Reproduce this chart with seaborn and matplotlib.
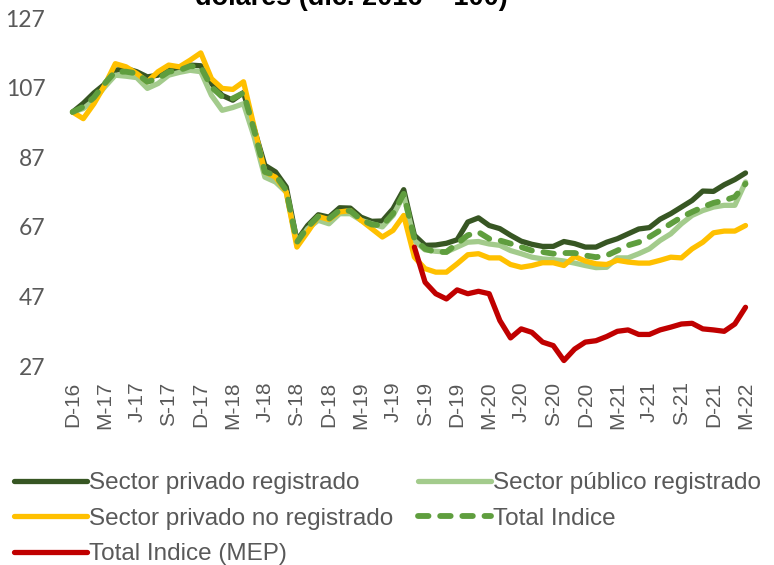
import numpy as np
import pandas as pd
import matplotlib
matplotlib.use("Agg")
import matplotlib.pyplot as plt
import seaborn as sns

# Salario real en dolares, base dic. 2016 = 100 (mensual, dic-16 a mar-22)
tick_labels = ["D-16", "M-17", "J-17", "S-17", "D-17", "M-18", "J-18", "S-18",
               "D-18", "M-19", "J-19", "S-19", "D-19", "M-20", "J-20", "S-20",
               "D-20", "M-21", "J-21", "S-21", "D-21", "M-22"]

privado_registrado = [
    100, 102.5, 105.5, 108, 112, 112.5, 111.6, 110.1, 110.6, 112.2, 112.2, 113.5,
    113.3, 108.2, 104.8, 103.4, 105.6, 95.2, 84.7, 82.8, 78.5, 63.1, 67.4, 70.5,
    69.8, 72.5, 72.4, 69.8, 68.6, 68.7, 72.2, 77.7, 64.6, 61.7, 61.8, 62.3,
    63.3, 68.4, 69.6, 67.4, 66.5, 64.6, 62.9, 62.0, 61.4, 61.4, 62.8, 62.2,
    61.2, 61.2, 62.6, 63.6, 65.0, 66.4, 66.8, 69.2, 70.8, 72.7, 74.6, 77.3,
    77.2, 79.1, 80.6, 82.5]

publico_registrado = [
    100, 101, 103.4, 107.2, 110.6, 110.3, 109.9, 106.8, 108.2, 110.6, 111.4, 112,
    111.6, 104.8, 100.5, 101.3, 102.4, 92.8, 81.3, 79.9, 77, 62.2, 66.5, 68.9,
    67.9, 70.8, 70.8, 68.9, 67.9, 67, 70.3, 76.1, 63.1, 60.4, 60, 59.8,
    61.2, 62.6, 62.8, 62.1, 61.7, 60.2, 59.3, 58.3, 57.8, 57.6, 57.2, 56.6,
    55.9, 55.3, 55.4, 58.1, 58.1, 59.3, 60.7, 63.1, 65, 67.9, 70.3, 71.7,
    72.7, 73.2, 73.2, 79.9]

privado_no_registrado = [
    100, 98.1, 102.4, 107.7, 113.9, 113, 111.1, 108.7, 111.6, 113.5, 113, 114.9,
    117, 109.6, 106.8, 106.5, 108.7, 95.7, 82.8, 81.3, 77, 61.2, 65.5, 70,
    69.1, 71.3, 71.7, 68.9, 66.5, 64.1, 66, 70.3, 58.3, 55, 54, 54,
    56.4, 59, 59.3, 58.1, 58.1, 56.2, 55.4, 55.9, 56.7, 56.7, 55.9, 58.5,
    57.2, 56.4, 56.2, 57.4, 56.9, 56.6, 56.6, 57.4, 58.3, 58.1, 60.7, 62.6,
    65.3, 65.8, 65.8, 67.4]

total_indice = [
    100, 101.5, 104.2, 108.2, 111.6, 111.6, 111.1, 108.7, 109.6, 111.6, 112, 113.2,
    113, 107.2, 104.4, 103.9, 105.5, 94.8, 82.8, 81.8, 77.5, 62.6, 66.9, 70,
    69.3, 71.8, 71.6, 69.1, 67.7, 67.4, 70.8, 76.5, 63.6, 60.7, 59.8, 59.8,
    62.2, 64.6, 65.5, 63.6, 63.1, 62.2, 61.2, 60.2, 59.8, 59.3, 59.5, 59.5,
    58.8, 58.3, 58.8, 60.2, 61.7, 62.6, 64.1, 66, 67.9, 69.8, 71.3, 72.7,
    73.9, 74.6, 75.6, 79.4]

total_mep = [None] * 32 + [
    61.2, 51.1, 47.8, 46.3, 48.9, 47.8, 48.5, 47.8, 40.1, 35.1, 37.7, 36.7,
    33.9, 32.9, 28.6, 31.9, 33.9, 34.3, 35.5, 37.0, 37.4, 36.1, 36.1, 37.4,
    38.2, 39.1, 39.3, 37.7, 37.4, 37.0, 39.1, 43.9]

df = pd.DataFrame({
    "mes": np.arange(len(privado_registrado)),
    "Sector privado registrado": privado_registrado,
    "Sector público registrado": publico_registrado,
    "Sector privado no registrado": privado_no_registrado,
    "Total Indice": total_indice,
    "Total Indice (MEP)": pd.array(total_mep, dtype="Float64").astype(float),
})

sns.set_style("white")
plt.rcParams["font.family"] = ["Liberation Sans", "DejaVu Sans"]

fig = plt.figure(figsize=(7.74, 5.65), dpi=100)
ax = fig.add_axes([0.080, 0.352, 0.897, 0.616])

gray = "#595959"
styles = [
    ("Sector privado registrado", "#375623", "-", 3.8),
    ("Sector público registrado", "#a3cb8c", "-", 3.8),
    ("Sector privado no registrado", "#ffc000", "-", 3.8),
    ("Total Indice", "#5f9e3e", (0, (1.8, 2.0)), 4.2),
    ("Total Indice (MEP)", "#c00000", "-", 3.8),
]
handles = {}
for name, color, ls, lw in styles:
    sns.lineplot(data=df, x="mes", y=name, ax=ax, color=color, linestyle=ls,
                 linewidth=lw, solid_capstyle="round", dash_capstyle="round",
                 label=name)
    handles[name] = ax.get_lines()[-1]

ax.set_xlim(-1, 64)
ax.set_ylim(27, 127)
ax.set_yticks(np.arange(27, 128, 20))
ax.set_xticks(np.arange(0, 64, 3))
ax.set_xticklabels(tick_labels, rotation=90, fontsize=15, color=gray)
ax.tick_params(axis="y", labelsize=16.5, labelcolor=gray, length=0, pad=12)
ax.tick_params(axis="x", length=0, pad=11)
for lab in ax.get_yticklabels():
    lab.set_family(["Lato", "DejaVu Sans"])
ax.set_xlabel("")
ax.set_ylabel("")
sns.despine(ax=ax, left=True, bottom=True)
ax.get_legend().remove()

order = ["Sector privado registrado", "Sector privado no registrado",
         "Total Indice (MEP)", "Sector público registrado", "Total Indice"]
fig.legend([handles[n] for n in order], order, loc="upper left",
           bbox_to_anchor=(0.018, 0.164), ncol=2, frameon=False,
           fontsize=17.5, labelcolor=gray, handlelength=3.0,
           handletextpad=0.1, columnspacing=1.0, labelspacing=0.55,
           borderpad=0, borderaxespad=0)

fig.text(351 / 774, 1 - 5 / 565, "dólares (dic. 2016 = 100)", ha="center",
         va="baseline", fontsize=19.5, fontweight="bold", color="black")

fig.savefig("out.png", dpi=100)
